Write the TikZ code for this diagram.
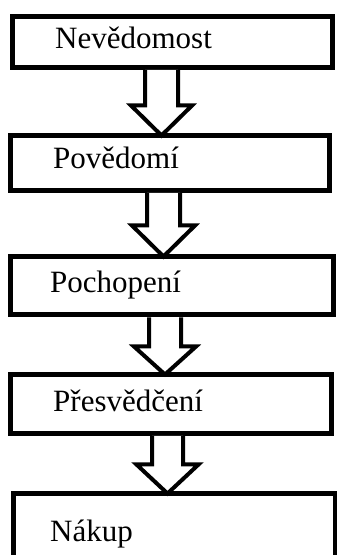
\documentclass[tikz,border=0pt]{standalone}
\usepackage{fontspec}
\setmainfont{Liberation Serif}
\usetikzlibrary{calc}

% hollow block arrow from the bottom of one box to the top of the next
\newcommand\blockarrow[6]{% #1 upper box, #2 lower box, #3 centre x, #4 shaft half width, #5 head half width, #6 head length
  \draw[barrow] let \p1=(#1.south), \p2=(#2.north) in
    ({#3pt-#4pt},{\y1}) -- ({#3pt-#4pt},{\y2-2.5pt+#6pt}) --
    ({#3pt-#5pt},{\y2-2.5pt+#6pt}) -- ({#3pt},{\y2-2.5pt}) --
    ({#3pt+#5pt},{\y2-2.5pt+#6pt}) -- ({#3pt+#4pt},{\y2-2.5pt+#6pt}) --
    ({#3pt+#4pt},{\y1});}

\tikzset{
  stagebox/.style={draw=black, line width=5pt, rectangle, inner sep=0pt},
  barrow/.style={draw=black, line width=4pt, fill=white, line join=miter},
  stagetext/.style={anchor=base west, inner sep=0pt, font=\fontsize{31}{36}\selectfont}
}

\begin{document}
\begin{tikzpicture}[x=1pt, y=1pt]
  \clip (0,0) rectangle (337,555);
  \fill[white] (0,0) rectangle (337,555);

  % stage boxes
  \node[stagebox, minimum width=320pt, minimum height=51pt]   (b1) at (172.5,513)   {};
  \node[stagebox, minimum width=319pt, minimum height=55pt]   (b2) at (170,392)     {};
  \node[stagebox, minimum width=323pt, minimum height=58.5pt] (b3) at (172,269.25)  {};
  \node[stagebox, minimum width=320.5pt, minimum height=59pt] (b4) at (170.75,151){};
  \node[stagebox, minimum width=322pt, minimum height=76pt]   (b5) at (174,23.5)    {};

  % stage names
  \node[stagetext] (t1) at (55,506) {Nevědomost};
  \node[stagetext] (t2) at (53,386) {Povědomí};
  \node[stagetext] (t3) at (50,262) {Pochopení};
  \node[stagetext] (t4) at (53,143) {Přesvědčení};
  \node[stagetext] (t5) at (50,13)  {Nákup};

  % arrows between consecutive stages
  \blockarrow{b1}{b2}{161.5}{16.5}{30.5}{30}
  \blockarrow{b2}{b3}{163.5}{16.5}{31.5}{31}
  \blockarrow{b3}{b4}{165}{16}{31}{28}
  \blockarrow{b4}{b5}{167.5}{15.5}{31}{29}
\end{tikzpicture}
\end{document}
